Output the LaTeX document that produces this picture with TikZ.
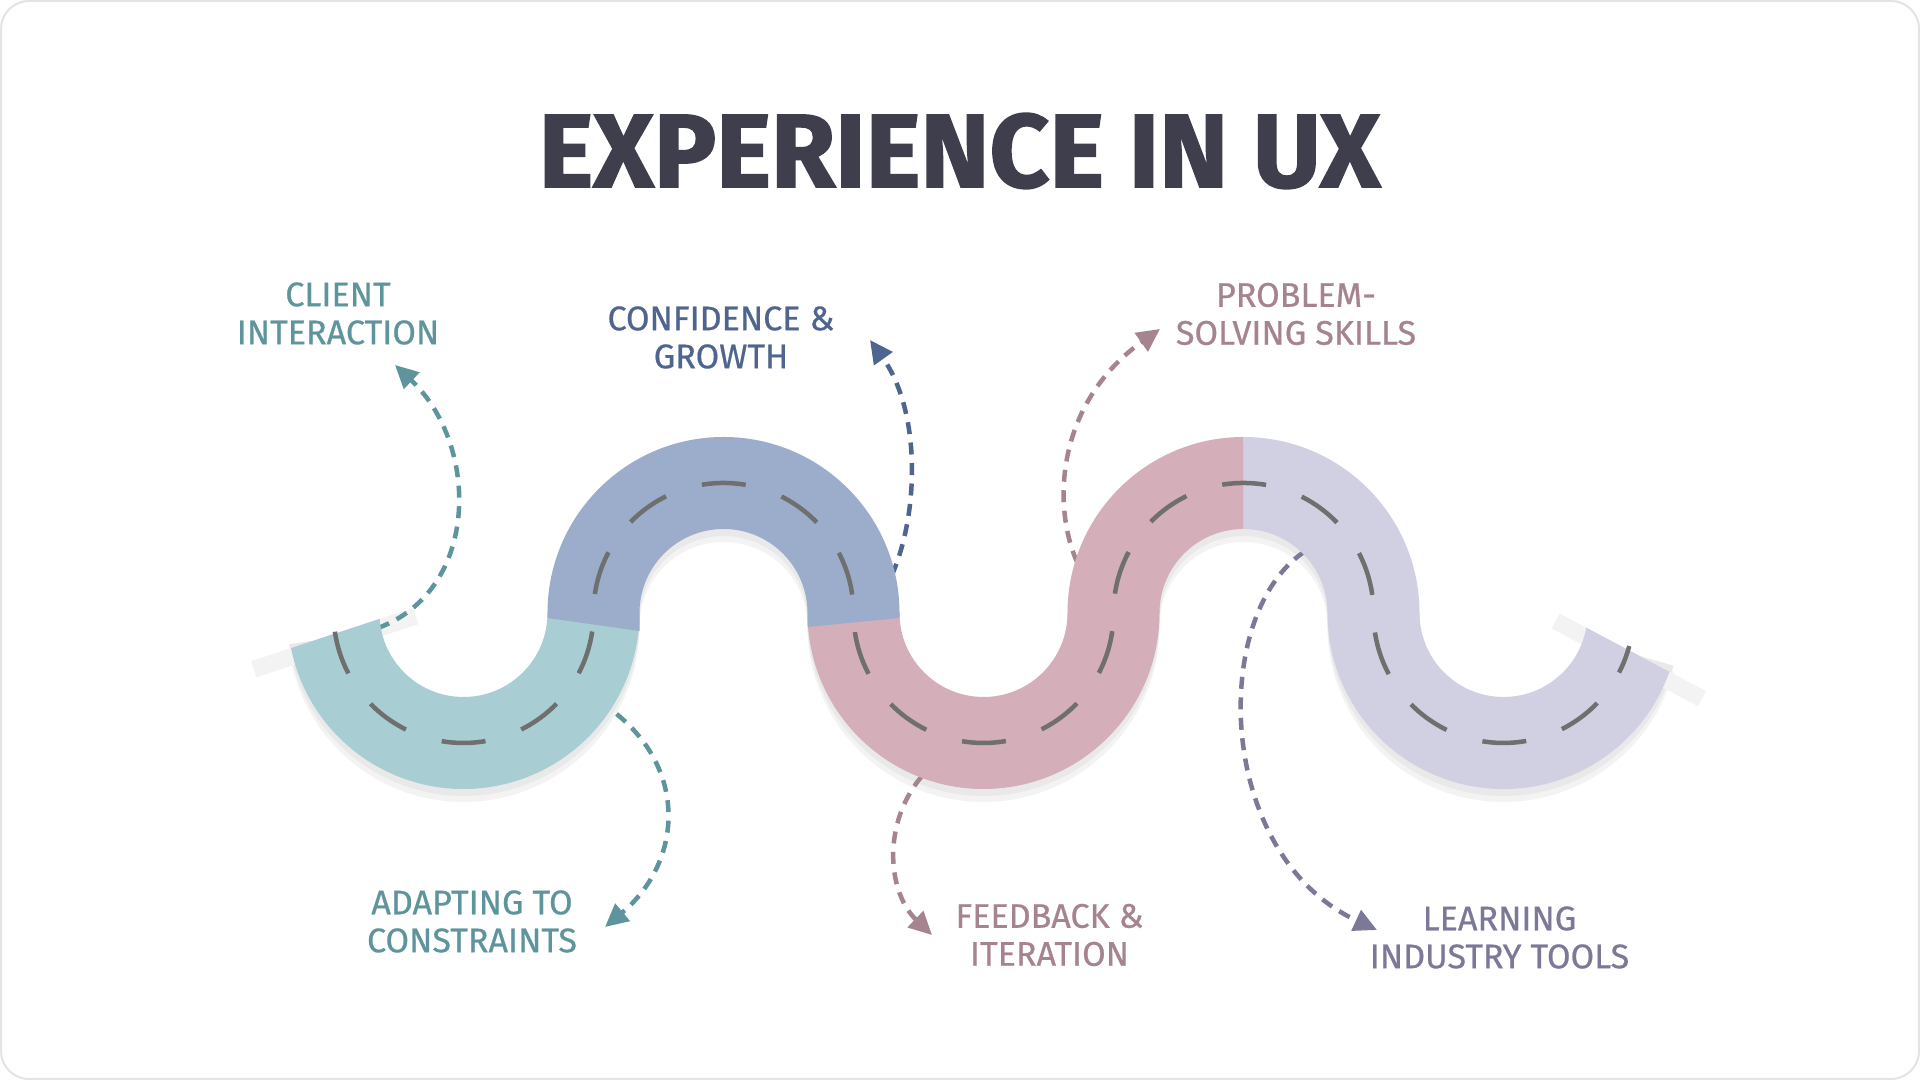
\documentclass[tikz,border=0pt]{standalone}
\usepackage{fontspec}
\setmainfont{Fira Sans}
\newfontfamily\labelfont[FakeBold=0.6]{Fira Sans}
\newfontfamily\titlefont[FakeBold=1.6]{Fira Sans}
\usetikzlibrary{arrows.meta}

\definecolor{titlec}{HTML}{3E3E4C}
\definecolor{framec}{HTML}{E4E4E4}
\definecolor{shadowc}{HTML}{E9E9E9}
\definecolor{shadowd}{HTML}{F3F3F3}
\definecolor{stripc}{HTML}{F3F3F3}
\definecolor{lanec}{HTML}{6F6F6F}
\definecolor{tealrd}{HTML}{A8CDD3}
\definecolor{bluerd}{HTML}{9CADCB}
\definecolor{pinkrd}{HTML}{D4AEB8}
\definecolor{lavrd}{HTML}{D1D0E2}
\definecolor{tealtx}{HTML}{5E949B}
\definecolor{bluetx}{HTML}{4F6590}
\definecolor{pinktx}{HTML}{A6848F}
\definecolor{lavtx}{HTML}{7C7998}

\tikzset{
  ttl/.style = {font=\titlefont\bfseries\fontsize{29.6}{31}\selectfont, text=titlec, inner sep=0pt},
  lbl/.style = {font=\labelfont\fontsize{9.7}{10.8}\selectfont, align=center, inner sep=0pt},
  arr/.style = {line width=0.045cm, dash pattern=on 0.12cm off 0.085cm, -{Triangle[length=0.23cm, width=0.22cm]}},
  lane/.style = {draw=lanec, line width=0.045cm, dash pattern=on 0.44cm off 0.3768cm, dash phase=0.8044cm}
}

\begin{document}
\begin{tikzpicture}[x=0.01cm, y=-0.01cm]

\useasboundingbox (0,0) rectangle (1920,1080);
\fill[white] (0,0) rectangle (1920,1080);
\draw[framec, line width=0.02cm, rounded corners=0.28cm] (1,1) rectangle (1919,1079);

% Title
\node[ttl] (ttl) at (959.5,151) {EXPERIENCE IN UX};

% ----- ROAD SHADOW -----
\draw[shadowd, line width=0.92cm, shift={(0,13)}] (334.7,630.5)
  arc[start angle=172.25, end angle=0, radius=130]
  arc[start angle=180, end angle=360, radius=130]
  arc[start angle=180, end angle=0, radius=130]
  arc[start angle=180, end angle=360, radius=130]
  arc[start angle=180, end angle=14.75, radius=130];
\draw[shadowc, line width=0.92cm, shift={(0,7)}] (334.7,630.5)
  arc[start angle=172.25, end angle=0, radius=130]
  arc[start angle=180, end angle=360, radius=130]
  arc[start angle=180, end angle=0, radius=130]
  arc[start angle=180, end angle=360, radius=130]
  arc[start angle=180, end angle=14.75, radius=130];

% end strips
\fill[stripc] (251,661.2) -- (413,608) -- (418.3,624.2) -- (256.3,677.4) -- cycle;
\fill[stripc] (1559.7,613.5) -- (1706,691.2) -- (1698,706.2) -- (1551.7,628.5) -- cycle;

% ----- ARROWS -----
\coordinate (ex1r) at (378,628);   \coordinate (ex1a) at (395,365);
\coordinate (ex2r) at (600,702);   \coordinate (ex2a) at (605,927);
\coordinate (ex3r) at (892,575);   \coordinate (ex3a) at (870,340);
\coordinate (ex4r) at (1077,562);  \coordinate (ex4a) at (1160,329);
\coordinate (ex5r) at (936,762);   \coordinate (ex5a) at (932,935);
\coordinate (ex6r) at (1304,552);  \coordinate (ex6a) at (1377,930);

% left bowl
\draw[arr, tealtx] (ex1r) .. controls (480,590) and (480,445) .. (ex1a);
\draw[arr, tealtx] (ex2r) .. controls (690,760) and (685,860) .. (ex2a);
% first hill
\draw[arr, bluetx] (ex3r) .. controls (920,510) and (920,410) .. (ex3a);
% second hill and middle bowl
\draw[arr, pinktx] (ex4r) .. controls (1050,500) and (1060,400) .. (ex4a);
\draw[arr, pinktx] (ex5r) .. controls (880,810) and (885,890) .. (ex5a);
% right bowl
\draw[arr, lavtx] (ex6r) .. controls (1210,615) and (1215,855) .. (ex6a);

% ----- ROAD -----
\fill[tealrd] (291.0,648.1) arc[start angle=168.5, end angle=0, radius=176]
  -- (547.5,613) arc[start angle=0, end angle=176, radius=84] -- cycle;
\fill[pinkrd] (807.5,613) arc[start angle=180, end angle=0, radius=176]
  arc[start angle=180, end angle=270, radius=84] -- (1243.5,437)
  arc[start angle=270, end angle=180, radius=176]
  arc[start angle=0, end angle=180, radius=84] -- cycle;
\fill[lavrd] (1243.5,437) arc[start angle=270, end angle=360, radius=176]
  arc[start angle=180, end angle=10, radius=84] -- (1669.4,671.8)
  arc[start angle=19.5, end angle=180, radius=176]
  arc[start angle=0, end angle=-90, radius=84] -- cycle;
\fill[bluerd] (547.5,618) -- (547.5,613) arc[start angle=180, end angle=360, radius=176]
  -- (899.5,618) -- (807.5,627) -- (807.5,613)
  arc[start angle=0, end angle=-180, radius=84] -- (639.5,631) -- cycle;

% lane marks
\draw[lane] (334.7,630.5)
  arc[start angle=172.25, end angle=0, radius=130]
  arc[start angle=180, end angle=360, radius=130]
  arc[start angle=180, end angle=0, radius=130]
  arc[start angle=180, end angle=360, radius=130]
  arc[start angle=180, end angle=14.75, radius=130];

% ----- LABELS -----
\node[lbl, text=tealtx] (ex1) at (338,313.5) {CLIENT\\INTERACTION};
\node[lbl, text=tealtx] (ex2) at (472,921.5) {ADAPTING TO\\CONSTRAINTS};
\node[lbl, text=bluetx] (ex3) at (721,337.5) {CONFIDENCE \&\\GROWTH};
\node[lbl, text=pinktx] (ex4) at (1296,314) {PROBLEM-\\SOLVING SKILLS};
\node[lbl, text=pinktx] (ex5) at (1049.5,935) {FEEDBACK \&\\ITERATION};
\node[lbl, text=lavtx] (ex6) at (1499.5,937.5) {LEARNING\\INDUSTRY TOOLS};

\end{tikzpicture}
\end{document}
